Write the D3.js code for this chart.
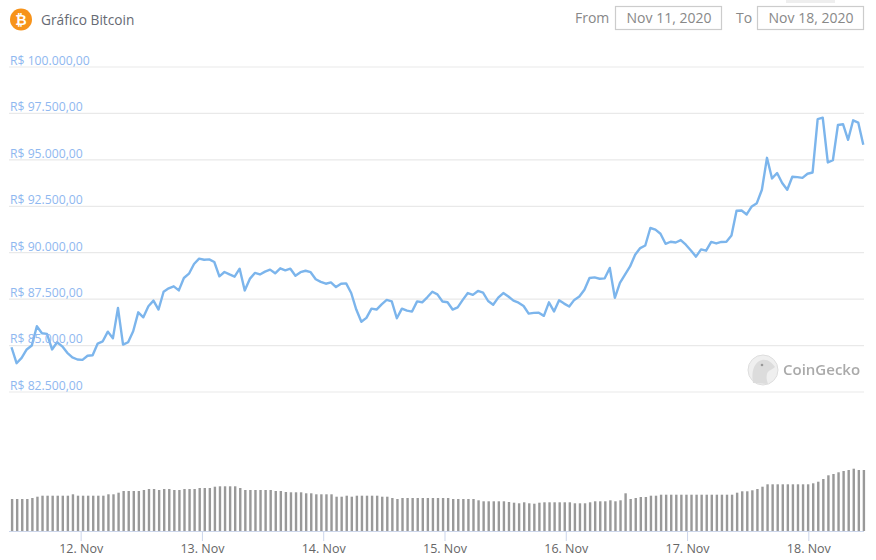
<!DOCTYPE html>
<html>
<head>
<meta charset="utf-8">
<script src="https://cdn.jsdelivr.net/npm/d3@7"></script>
<style>
  html, body { margin: 0; padding: 0; background: #fff; }
  text { font-family: "Open Sans", sans-serif; }
</style>
</head>
<body>
<svg id="chart" width="876" height="560"></svg>
<script>
// hourly-ish BTC price in BRL
const prices = [
  84910, 84050, 84340, 84790, 85000, 86040, 85660, 85630, 84790, 85180, 84960, 84610, 84360,
  84250, 84230, 84450, 84480, 85110, 85230, 85750, 85390, 87030, 85050, 85180, 85770, 86790,
  86520, 87120, 87420, 86940, 87900, 88080, 88190, 87970, 88640, 88870, 89390, 89680, 89620,
  89640, 89500, 88730, 88960, 88830, 88710, 89140, 87970, 88590, 88910, 88830, 88980, 89090,
  88890, 89160, 89050, 89140, 88760, 88950, 89030, 88950, 88570, 88430, 88330, 88400, 88150,
  88330, 88350, 87830, 86940, 86280, 86490, 86990, 86940, 87220, 87460, 87380, 86470, 86990,
  86880, 86830, 87380, 87330, 87600, 87900, 87760, 87370, 87330, 86940, 87060, 87460, 87830,
  87730, 87940, 87850, 87400, 87200, 87580, 87830, 87640, 87420, 87310, 87130, 86720, 86760,
  86770, 86600, 87330, 86840, 87440, 87260, 87100, 87460, 87640, 88010, 88640, 88670, 88600,
  88620, 89180, 87570, 88370, 88820, 89260, 89890, 90250, 90390, 91330, 91240, 91020, 90480,
  90590, 90550, 90680, 90430, 90120, 89790, 90180, 90110, 90580, 90500, 90580, 90590, 90930,
  92260, 92270, 92060, 92490, 92670, 93390, 95110, 94000, 94290, 93750, 93390, 94090, 94070,
  94030, 94250, 94320, 97190, 97270, 94860, 94980, 96880, 96920, 96080, 97130, 97010, 95810
];

// volume, no axis in the original so the unit is arbitrary
const volumes = [
  32, 32, 32, 32, 33, 34.3, 35.3, 35.3, 35.3, 35.3, 35.3, 35.3, 36.7,
  35.3, 35.3, 35.3, 35.3, 35.3, 35.3, 36.7, 36.7, 38.3, 40, 40, 40, 40,
  41, 42, 42, 41, 42, 42, 41, 41, 42, 42, 42, 43, 43,
  43, 44.3, 44.7, 44.7, 44.7, 44.7, 43, 41, 41, 41, 41, 41, 41,
  40, 40, 39, 38.7, 38.7, 38.7, 37.7, 37.7, 36.7, 36.7, 36.7, 36.7, 34.3,
  34.3, 35.3, 34.3, 35.3, 35.3, 35.3, 35.3, 35.3, 34.3, 34.3, 33, 32, 33,
  33, 33, 33, 33, 33, 33, 33, 33, 33, 32, 32, 32, 32,
  32, 30.7, 29.7, 29.7, 29.7, 29.7, 29.7, 29, 28.3, 27.7, 28.7, 27.7, 27.3,
  28.3, 28.7, 28.7, 28.7, 28.7, 28.7, 28.7, 27.7, 27.7, 27.7, 28.7, 29.7, 29.7,
  29.7, 30.7, 29.7, 30.7, 37.7, 32, 33, 34, 34, 35.3, 35.3, 36.3, 36.3,
  36.3, 36.3, 36.3, 36.3, 36.3, 36.3, 36.3, 36.3, 36.3, 36.3, 36.3, 36.3, 36.3,
  38.3, 39.7, 39.7, 40.7, 42, 44.3, 46.7, 46.7, 46.7, 46.7, 46.7, 46.7, 46.7,
  46.7, 46.7, 47.7, 49.3, 52, 55.7, 57, 58.7, 60, 61, 62.3, 61, 61
];

const priceTicks = [82500, 85000, 87500, 90000, 92500, 95000, 97500, 100000];
const dayTicks = [12, 13, 14, 15, 16, 17, 18];
const startDate = "Nov 11, 2020";
const endDate = "Nov 18, 2020";

const svg = d3.select("#chart");

const firstTime = Date.UTC(2020, 10, 11, 10, 19);
const stepMs = 60.2 * 60 * 1000;
const times = prices.map((d, i) => new Date(firstTime + i * stepMs));

const x = d3.scaleUtc()
  .domain([times[0], times[times.length - 1]])
  .range([11.5, 863.3]);

const y = d3.scaleLinear()
  .domain([82500, 100000])
  .range([392, 67]);

const yVol = d3.scaleLinear()
  .domain([0, 62.3])
  .range([531, 468.7]);

// gridlines
svg.append("g")
  .selectAll("line")
  .data(priceTicks)
  .join("line")
  .attr("x1", 9)
  .attr("x2", 864)
  .attr("y1", d => y(d))
  .attr("y2", d => y(d))
  .attr("stroke", "#e9e9e9")
  .attr("stroke-width", 1.2);

// volume bars
svg.append("g")
  .selectAll("rect")
  .data(volumes)
  .join("rect")
  .attr("x", (d, i) => x(times[i]) - 0.6)
  .attr("y", d => yVol(d))
  .attr("width", 2.4)
  .attr("height", d => 531 - yVol(d))
  .attr("fill", "#999999");

// x axis
const xAxis = d3.axisBottom(x)
  .tickValues(dayTicks.map(d => new Date(Date.UTC(2020, 10, d))))
  .tickFormat(d => d.getUTCDate() + ". Nov")
  .tickSize(10)
  .tickPadding(3);

const axisG = svg.append("g")
  .attr("transform", "translate(0,531)")
  .call(xAxis);
axisG.select(".domain").attr("d", "M9,0.5H864").attr("stroke", "#ccd6eb");
axisG.selectAll(".tick line").attr("stroke", "#ccd6eb");
axisG.selectAll(".tick text")
  .attr("fill", "#666666")
  .style("font-size", "12.5px")
  .style("font-family", "'Open Sans', sans-serif");

// price line
const line = d3.line()
  .x((d, i) => x(times[i]))
  .y(d => y(d));

svg.append("path")
  .datum(prices)
  .attr("fill", "none")
  .attr("stroke", "#7cb5ec")
  .attr("stroke-width", 2.4)
  .attr("stroke-linejoin", "round")
  .attr("d", line);

// y labels sit on top of the line
const brl = d => "R$ " + d.toLocaleString("pt-BR", { minimumFractionDigits: 2 });
svg.append("g")
  .selectAll("text")
  .data(priceTicks)
  .join("text")
  .attr("x", 10)
  .attr("y", d => y(d) - 2.2)
  .attr("fill", "#8fb8f0")
  .style("font-size", "12.2px")
  .text(brl);

// header
const header = svg.append("g");
header.append("circle").attr("cx", 21).attr("cy", 19.5).attr("r", 11).attr("fill", "#f7931a");
header.append("text")
  .attr("x", 21)
  .attr("y", 24.5)
  .attr("text-anchor", "middle")
  .attr("fill", "#fff")
  .style("font-size", "14px")
  .style("font-weight", "700")
  .style("font-family", "'DejaVu Sans', sans-serif")
  .text("₿");
header.append("text")
  .attr("x", 41)
  .attr("y", 25)
  .attr("fill", "#666a73")
  .style("font-size", "13.7px")
  .text("Gráfico Bitcoin");

// range selector
header.append("rect").attr("x", 786).attr("y", 0).attr("width", 49).attr("height", 3).attr("fill", "#eeeeee");
const rangeLabels = [
  { label: "From", x: 575, boxX: 616, value: startDate },
  { label: "To", x: 736, boxX: 758, value: endDate }
];
rangeLabels.forEach(r => {
  header.append("text")
    .attr("x", r.x).attr("y", 23)
    .attr("fill", "#888888")
    .style("font-size", "14px")
    .text(r.label);
  header.append("rect")
    .attr("x", r.boxX - 0.5).attr("y", 6.5)
    .attr("width", 106).attr("height", 23)
    .attr("fill", "none")
    .attr("stroke", "#cccccc")
    .attr("stroke-width", 1.2);
  header.append("text")
    .attr("x", r.boxX + 53).attr("y", 23)
    .attr("text-anchor", "middle")
    .attr("fill", "#888888")
    .style("font-size", "14px")
    .text(r.value);
});

// watermark
const mark = svg.append("g").style("filter", "blur(0.5px)");
mark.append("circle").attr("cx", 763).attr("cy", 370).attr("r", 15)
  .attr("fill", "#efefef").attr("stroke", "#dddddd").attr("stroke-width", 1);
mark.append("path")
  .attr("d", "M753,383 C751,372 754,362 762,360 C768,359 772,363 775,367 C772,370 768,370 767,374 C766,378 767,381 768,384 Z")
  .attr("fill", "#dcdcdc");
mark.append("circle").attr("cx", 762).attr("cy", 365).attr("r", 1.3).attr("fill", "#999999");
mark.append("text")
  .attr("x", 783)
  .attr("y", 375)
  .attr("fill", "#aaaaaa")
  .style("font-size", "15px")
  .style("font-weight", "600")
  .text("CoinGecko");
</script>
</body>
</html>
